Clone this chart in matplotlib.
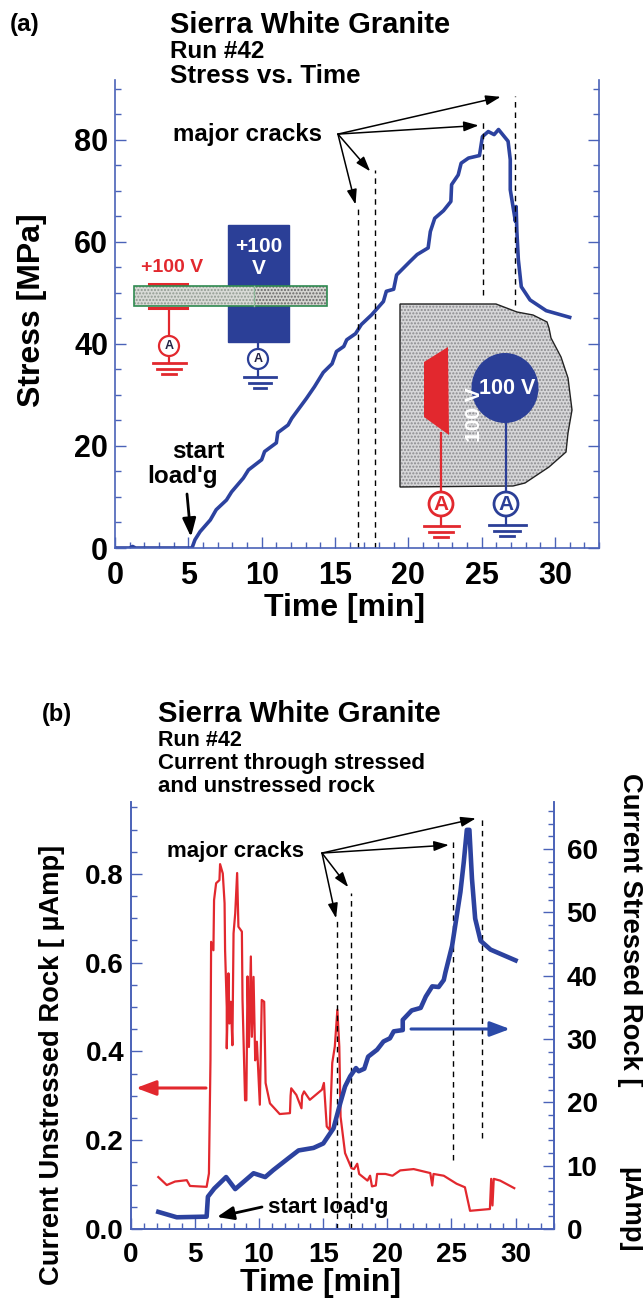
import matplotlib
matplotlib.use("Agg")
import matplotlib.pyplot as plt
from matplotlib.patches import Polygon, Rectangle, Ellipse
from matplotlib.ticker import MultipleLocator

plt.rcParams['font.family'] = ['Liberation Sans', 'DejaVu Sans']
plt.rcParams['font.weight'] = 'bold'

W, H = 643, 1301
AXIS = '#4a62b8'
BLUE = '#2c429f'
RED = '#e2282e'

# (a) stress
t_a = [0, 1, 1.2, 1.4, 3, 5.25, 5.45, 5.8, 6.5, 6.9, 7.6, 7.95, 8.75, 9.1, 10, 10.2, 11, 11.1, 11.8, 12.05, 13.05,
       13.6, 14.2, 14.8, 15.1, 15.6, 15.8, 16.4, 16.8, 17.5, 18.3, 18.5, 19, 19.2, 20.1, 20.6, 21.35, 21.5, 21.8,
       22.4, 22.9, 22.95, 23.4, 23.6, 24.1, 24.85, 25.05, 25.45, 25.85, 26.15, 26.8, 26.95, 26.95, 27.3, 27.35,
       27.4, 27.5, 27.7, 28.3, 29.4, 31]
stress = [0, 0, 0.3, 0, 0, 0, 1.6, 3.2, 5.5, 7.5, 9.4, 11, 13.7, 15.3, 17.3, 18.9, 20.6, 22.6, 24.1, 25.4, 29.3,
          31.6, 34.4, 36.1, 38.5, 39.5, 40.8, 42, 43.8, 45.7, 48.3, 50.3, 50.7, 53.5, 56.1, 57.5, 58.8, 62, 64.6,
          66.1, 67.9, 71.2, 73.1, 75.4, 76.4, 76.9, 80.6, 81.6, 81, 82, 79.7, 76.1, 70.2, 64, 66.9,
          62, 56.5, 51.2, 48.6, 46.5, 45.2]
cracks_a = [(16.6, 0, 67.3), (17.7, 0, 74), (25.06, 49.6, 83.6), (27.27, 47.6, 88.5)]
arrow_from_a = (15.2, 81.1)
arrow_to_a = [(16.4, 67.3), (17.4, 73.8), (24.8, 82.8), (26.3, 88.4)]

# (b) currents
t_blue = [2.13, 3.57, 5.9, 6.0, 6.5, 7.42, 8.13, 9.56, 10.47, 11.1, 12.3, 13.07, 14.24, 15.0, 15.8, 16.33, 16.7, 17.1,
          17.55, 17.76, 18.2, 18.5, 19.2, 19.7, 20.2, 20.5, 21.2, 21.2, 21.9, 22.6, 23, 23.5, 24, 24.4,
          24.53, 25.05, 25.7, 25.96, 26.2, 26.4, 26.6, 26.85, 27.27, 28.05, 30]
i_stressed = [2.7, 1.85, 1.95, 5.1, 6.4, 8.2, 6.3, 8.8, 8.2, 9.3, 11.2, 12.4, 12.8, 13.5, 15.9, 19.9, 22.5, 24.1,
              25.4, 24.9, 25.3, 27.2, 28.3, 29.6, 30.1, 31.2, 31.4, 33, 34.5, 34.9, 36.7, 38.3, 38.2, 39.3,
              40.5, 44.7, 53.2, 57.9, 63, 63, 55.3, 49, 45.5, 44.1, 42.4]
t_red = [2.13, 2.79, 3.44, 4.35, 4.6, 5.9, 6.08, 6.2, 6.25, 6.43, 6.48, 6.64, 6.9, 6.95, 7.16, 7.3, 7.34, 7.47, 7.47,
         7.6, 7.68, 7.79, 7.91, 8.0, 8.13, 8.28, 8.38, 8.65, 8.7, 8.9, 9.0, 9.09, 9.2, 9.35, 9.43, 9.56, 9.69,
         9.82, 10.05, 10.2, 10.39, 10.47, 10.5, 10.84, 11.6, 12.4, 12.45, 12.5, 12.9, 13.3, 13.35, 13.5, 13.95,
         14.9, 15.05, 15.27, 15.5, 15.7, 15.9, 16.1, 16.25, 16.35, 16.7, 17.2, 17.4, 17.65, 17.8, 18.45, 18.65,
         18.8, 19.1, 19.2, 19.85, 20.4, 21, 22.05, 23.35, 23.5, 23.6, 24.4, 25.4, 26.05, 26.45, 28, 28.1, 28.2,
         28.3, 28.8, 29.9]
i_unstressed = [.117, .099, .107, .11, .097, .095, .125, .38, .647, .628, .741, .779, .786, .822, .801, .734, .628,
                .50, .407, .576, .463, .512, .414, .666, .711, .802, .681, .67, .516, .29, .29, .569, .41, .614,
                .433, .568, .38, .422, .28, .516, .512, .38, .329, .283, .259, .261, .30, .317, .302, .272, .30,
                .31, .291, .314, .329, .231, .223, .374, .411, .494, .411, .253, .171, .137, .135, .147, .124,
                .109, .12, .096, .098, .124, .124, .12, .132, .135, .126, .098, .124, .12, .102, .094, .041, .045,
                .113, .053, .113, .109, .092]
cracks_b = [(16.1, 0, .70), (17.2, 0, .757), (25.1, .155, .876), (27.4, .205, .925)]
arrow_from_b = (14.9, .847)
arrow_to_b = [(16.0, .70), (16.95, .77), (24.8, .865), (26.9, .925)]


def px_axes(fig, left, right, top, bottom):
    return fig.add_axes([left / W, 1 - bottom / H, (right - left) / W, (bottom - top) / H])


def style(ax, size=19):
    ax.spines['top'].set_visible(False)
    for s in ['left', 'right', 'bottom']:
        ax.spines[s].set_color(AXIS)
        ax.spines[s].set_linewidth(1.2)
    ax.xaxis.set_major_locator(MultipleLocator(5))
    ax.xaxis.set_minor_locator(MultipleLocator(1))
    ax.tick_params(which='major', direction='in', length=8, width=1, color=AXIS, labelsize=size, pad=9)
    ax.tick_params(which='minor', direction='in', length=4, width=1, color=AXIS)


def cracks(ax, lines, start, ends):
    for x, y0, y1 in lines:
        ax.plot([x, x], [y0, y1], color='black', lw=1, ls=(0, (4, 3.5)))
    for e in ends:
        ax.annotate('', xy=e, xytext=start,
                    arrowprops=dict(arrowstyle='-|>,head_length=0.9,head_width=0.3', color='black', lw=1.1,
                                    shrinkA=0, shrinkB=0))


fig = plt.figure(figsize=(W / 100, H / 100), dpi=100)

ax1 = px_axes(fig, 115, 599, 80, 548)
ax1.plot(t_a, stress, color=BLUE, lw=2.6)
ax1.set_xlim(0, 33)
ax1.set_ylim(0, 91.7)
style(ax1, 22)
ax1.yaxis.set_major_locator(MultipleLocator(20))
ax1.yaxis.set_minor_locator(MultipleLocator(5))
ax1.tick_params(axis='y', which='both', right=True)
ax1.tick_params(axis='y', which='major', pad=5)
ax1.set_xticks([0, 5, 10, 15, 20, 25, 30])
cracks(ax1, cracks_a, arrow_from_a, arrow_to_a)

ax2 = px_axes(fig, 131, 554, 802, 1229)
ax2.plot(t_red, i_unstressed, color=RED, lw=1.6)
ax2.set_xlim(0, 33)
ax2.set_ylim(0, 0.962)
style(ax2, 20)
ax2.yaxis.set_major_locator(MultipleLocator(0.2))
ax2.yaxis.set_minor_locator(MultipleLocator(0.05))
ax2.tick_params(axis='y', which='major', pad=5)
ax2.set_xticks([0, 5, 10, 15, 20, 25, 30])
cracks(ax2, cracks_b, arrow_from_b, arrow_to_b)

ax3 = ax2.twinx()
ax3.plot(t_blue, i_stressed, color=BLUE, lw=3.3)
ax3.set_ylim(0, 67.4)
style(ax3, 20)
ax3.yaxis.set_major_locator(MultipleLocator(10))
ax3.yaxis.set_minor_locator(MultipleLocator(2))

# overlay in image pixels for the texts and the electrode sketches
ov = fig.add_axes([0, 0, 1, 1], zorder=10)
ov.set_xlim(0, W)
ov.set_ylim(H, 0)
ov.set_axis_off()
ov.patch.set_visible(False)


def txt(x, y, s, size, **kw):
    kw.setdefault('ha', 'left')
    kw.setdefault('va', 'center')
    ov.text(x, y, s, fontsize=size, **kw)


def meter(x, y, r, col, lw=1.6, size=9):
    ov.add_patch(Ellipse((x, y), 2 * r, 2 * r, fc='white', ec=col, lw=lw, zorder=4))
    txt(x, y, 'A', size, ha='center', color=col if size > 11 else '#222244', zorder=5)


def ground(x, y, w, col, lw=2):
    for i, f in enumerate([1, 0.7, 0.4]):
        ov.plot([x - w * f / 2, x + w * f / 2], [y + i * 5.5, y + i * 5.5], color=col, lw=lw)


# panel a texts
txt(10, 25, '(a)', 17.5)
txt(170, 25, 'Sierra White Granite', 21)
txt(170, 52, 'Run #42', 17.5)
txt(170, 76, 'Stress vs. Time', 18.7)
txt(173, 135, 'major cracks', 17.4)
txt(172, 452, 'start', 17.5)
txt(147, 476, "load'g", 17.5)
txt(32, 310, 'Stress [MPa]', 23, rotation=90, ha='center')
txt(345, 608, 'Time [min]', 23, ha='center')
ov.annotate('', xy=(191, 537), xytext=(187, 494),
            arrowprops=dict(arrowstyle='-|>,head_length=1.1,head_width=0.4', color='black', lw=2,
                            shrinkA=0, shrinkB=0))

# electrode bar sketch
ov.add_patch(Rectangle((228, 225), 60.5, 117, color='#2b3f97', zorder=1))
ov.add_patch(Rectangle((134, 286), 120, 20, fc='#d8dad6', ec='#8f9a90', hatch='.....', lw=0, zorder=2))
ov.add_patch(Rectangle((254, 286), 73, 20, fc='#d4d4d0', ec='#666666', hatch='.....', lw=0, zorder=2))
ov.add_patch(Rectangle((134, 286), 193, 20, fc='none', ec='#2f8a50', lw=1.2, zorder=3))
ov.plot([254, 254], [286, 306], color='#8fb89a', lw=1, zorder=3)
ov.plot([149, 187], [284, 284], color=RED, lw=2.2)
ov.plot([149, 187], [308, 308], color=RED, lw=2.2)
ov.plot([169, 169], [308, 363], color=RED, lw=1.6)
meter(169, 346, 10, RED)
ground(169, 363, 33, RED)
txt(172, 268, '+100 V', 14, ha='center', color=RED)
txt(258.5, 247, '+100', 15, ha='center', color='white')
txt(258.5, 268, 'V', 15, ha='center', color='white')
ov.plot([258, 258], [342, 377], color='#2b3f97', lw=1.6)
meter(258, 359, 10, '#2b3f97')
ground(260, 377, 32, '#2b3f97')

# block sketch
block = [(400, 304), (496, 304), (517, 312), (533, 315), (547, 322), (549, 328), (551, 338), (561, 357), (568, 378),
         (572, 410), (568, 433), (566, 452), (549, 467), (525, 483), (513, 486), (400, 487)]
ov.add_patch(Polygon(block, fc='#d6d6d8', ec='#8a8a8e', hatch='.....', lw=0, zorder=1))
ov.add_patch(Polygon(block, fc='none', ec='#222222', lw=1, zorder=2))
ov.add_patch(Polygon([(424, 362), (448, 347), (449, 435), (424, 417)], color=RED, lw=0, zorder=3))
ov.add_patch(Ellipse((505, 388), 67, 70, color='#2b3f97', lw=0, zorder=3))
ov.plot([441, 441], [433, 526], color=RED, lw=1.6, zorder=3)
ov.plot([506, 506], [420, 525], color='#2b3f97', lw=1.6, zorder=3)
meter(441, 504, 12, RED, lw=2, size=15)
meter(506, 504, 12, '#2b3f97', lw=2, size=15)
ground(441, 526, 35, RED)
ground(507, 525, 37, '#2b3f97')
txt(507, 388, '100 V', 15.5, ha='center', color='white', zorder=5)
txt(475, 415, '100 V', 15, ha='center', rotation=90, color='white', zorder=5)

# panel b texts
txt(42, 714, '(b)', 17)
txt(158, 714, 'Sierra White Granite', 21.2)
txt(158, 740, 'Run #42', 15.5)
txt(158, 763, 'Current through stressed', 16)
txt(158, 786, 'and unstressed rock', 16)
txt(167, 851, 'major cracks', 16)
txt(268, 1207, "start load'g", 16.2)
txt(52, 1065, 'Current Unstressed Rock [ \u00b5Amp]', 19.7, rotation=90, ha='center')
txt(630, 930, 'Current Stressed Rock [', 19.7, rotation=270, ha='center')
txt(630, 1210, '\u00b5Amp]', 19.7, rotation=270, ha='center')
txt(320, 1283, 'Time [min]', 23, ha='center')
ov.annotate('', xy=(217, 1217), xytext=(262, 1207),
            arrowprops=dict(arrowstyle='-|>,head_length=1,head_width=0.4', color='black', lw=2,
                            shrinkA=0, shrinkB=0))
ov.annotate('', xy=(136, 1088), xytext=(206, 1088),
            arrowprops=dict(arrowstyle='-|>,head_length=1.2,head_width=0.45', color=RED, lw=2.2,
                            shrinkA=0, shrinkB=0))
ov.annotate('', xy=(510, 1029), xytext=(411, 1029),
            arrowprops=dict(arrowstyle='-|>,head_length=1.2,head_width=0.45', color='#2b4aa8', lw=2.2,
                            shrinkA=0, shrinkB=0))

fig.savefig('out.png', dpi=100)
